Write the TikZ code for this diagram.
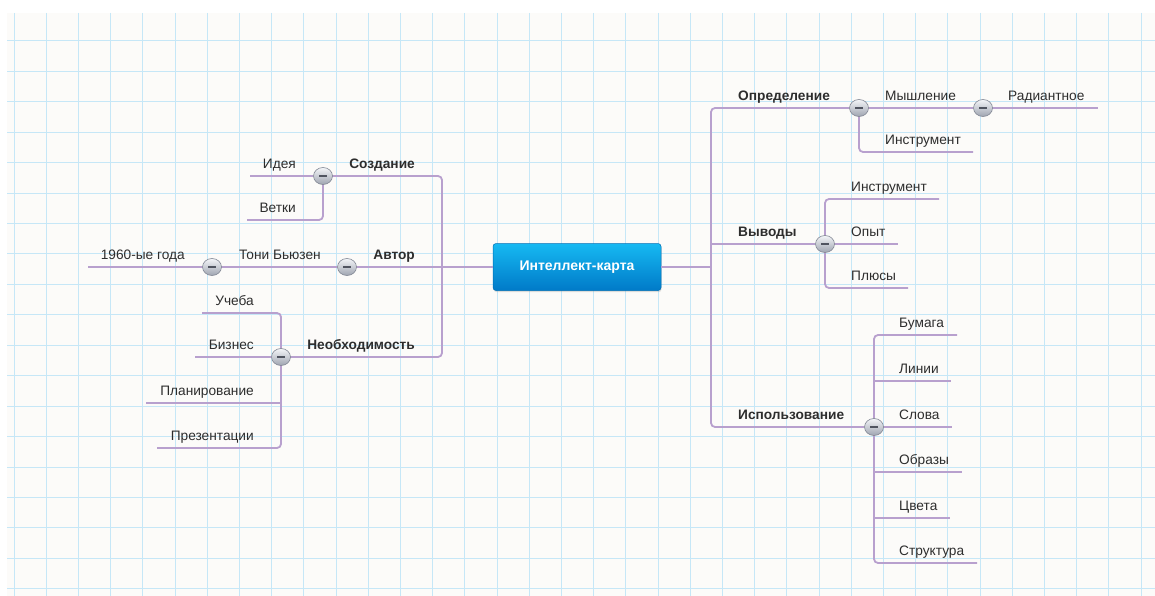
\documentclass[tikz,border=0pt]{standalone}
\usepackage{fontspec}
\setmainfont{Liberation Sans}
\usetikzlibrary{shadows,shapes.geometric}
\definecolor{paper}{RGB}{252,251,249}
\definecolor{gridc}{RGB}{198,231,247}
\definecolor{linkc}{RGB}{184,160,206}
\definecolor{textc}{RGB}{45,45,45}
\definecolor{btntop}{RGB}{244,245,248}
\definecolor{btnbot}{RGB}{158,164,176}
\definecolor{btnborder}{RGB}{130,135,148}
\definecolor{minusc}{RGB}{80,84,96}
\definecolor{ctop}{RGB}{22,185,242}
\definecolor{cbot}{RGB}{0,122,200}
\definecolor{cborder}{RGB}{0,110,180}
\begin{document}
\begin{tikzpicture}[x=1pt,y=-1pt,
  gridline/.style={draw=gridc, line width=0.9pt},
  link/.style={draw=linkc, line width=1.8pt, rounded corners=4pt},
  btn/.style={ellipse, minimum width=19pt, minimum height=17pt, inner sep=0pt, draw=btnborder, line width=0.6pt,
    top color=btntop, bottom color=btnbot,
    path picture={\draw[line width=1.5pt, minusc] ([xshift=-3.8pt]path picture bounding box.center) -- ([xshift=3.8pt]path picture bounding box.center);}},
  lab/.style={inner sep=0pt, text=textc, font=\fontsize{13.7}{16}\selectfont},
  mainlab/.style={inner sep=0pt, text=textc, font=\bfseries\fontsize{13.7}{16}\selectfont},
  centerbox/.style={rectangle, rounded corners=3pt, minimum width=168pt, minimum height=47pt,
    top color=ctop, bottom color=cbot, draw=cborder, line width=0.5pt, text=white,
    font=\bfseries\fontsize{14}{16}\selectfont,
    drop shadow={opacity=0.25, shadow xshift=0.6pt, shadow yshift=-1.6pt}}
]
\useasboundingbox (0,0) rectangle (1155,596);
\fill[white] (0,0) rectangle (1155,596);
\fill[paper] (7,13) rectangle (1155,596);
\foreach \i in {0,...,35} \draw[gridline] ({14+32.2*\i},13) -- ({14+32.2*\i},596);
\foreach \j in {0,...,18} \draw[gridline] (7,{40.7+30.45*\j}) -- (1155,{40.7+30.45*\j});

% central topic
\node[centerbox] (c) at (577,267) {Интеллект-карта};

% junctions
\coordinate (lj) at (442,267);
\coordinate (rj) at (711,267);

% buttons (positions)
\coordinate (pSozd) at (323,176);
\coordinate (pAvt) at (347,267);
\coordinate (pTon) at (212,267);
\coordinate (pNeob) at (281,357);
\coordinate (pOpr) at (859,108);
\coordinate (pMysh) at (983,108);
\coordinate (pVyv) at (825,244);
\coordinate (pIsp) at (874,427);

% free ends
\coordinate (eIdea) at (250,176);
\coordinate (eVetki) at (247,220);
\coordinate (eGod) at (88,267);
\coordinate (eUch) at (202,313);
\coordinate (eBiz) at (195,357);
\coordinate (ePlan) at (146,403);
\coordinate (ePrez) at (157,448);
\coordinate (eRad) at (1098,108);
\coordinate (eInstrA) at (973,152);
\coordinate (eInstrB) at (939,199);
\coordinate (eOpyt) at (898,244);
\coordinate (ePlus) at (908,288);
\coordinate (eBum) at (957,335);
\coordinate (eLin) at (951,381);
\coordinate (eSlova) at (952,427);
\coordinate (eObr) at (962,472);
\coordinate (eCv) at (950,518);
\coordinate (eStr) at (977,563);

% left connectors
\draw[link] (c.west) -- (lj) -- (pAvt);
\draw[link] (pSozd) -| (lj) |- (pNeob);
\draw[link] (pSozd) -- (eIdea);
\draw[link] (pSozd) |- (eVetki);
\draw[link] (pAvt) -- (pTon) -- (eGod);
\draw[link] (eUch) -| (pNeob) |- (ePrez);
\draw[link] (pNeob) -- (eBiz);
\draw[link] (pNeob |- ePlan) -- (ePlan);

% right connectors
\draw[link] (c.east) -- (rj);
\draw[link] (pOpr) -| (rj) |- (pIsp);
\draw[link] (rj |- pVyv) -- (pVyv);
\draw[link] (pOpr) -- (pMysh) -- (eRad);
\draw[link] (pOpr) |- (eInstrA);
\draw[link] (eInstrB) -| (pVyv) |- (ePlus);
\draw[link] (pVyv) -- (eOpyt);
\draw[link] (eBum) -| (pIsp) |- (eStr);
\draw[link] (pIsp |- eLin) -- (eLin);
\draw[link] (pIsp) -- (eSlova);
\draw[link] (pIsp |- eObr) -- (eObr);
\draw[link] (pIsp |- eCv) -- (eCv);

% buttons
\foreach \p/\n in {pSozd/bSozd, pAvt/bAvt, pTon/bTon, pNeob/bNeob, pOpr/bOpr, pMysh/bMysh, pVyv/bVyv, pIsp/bIsp}
  \node[btn] (\n) at (\p) {};

% left labels
\node[mainlab, anchor=base east] (tSozd) at (415,168.5) {Создание};
\node[lab, anchor=base east] (tIdea) at (296,168.5) {Идея};
\node[lab, anchor=base east] (tVetki) at (296,212.5) {Ветки};
\node[mainlab, anchor=base east] (tAvt) at (415,259.5) {Автор};
\node[lab, anchor=base east] (tTon) at (321,259.5) {Тони Бьюзен};
\node[lab, anchor=base east] (tGod) at (185,259.5) {1960-ые года};
\node[mainlab, anchor=base east] (tNeob) at (415,349.5) {Необходимость};
\node[lab, anchor=base east] (tUch) at (254,305.5) {Учеба};
\node[lab, anchor=base east] (tBiz) at (254,349.5) {Бизнес};
\node[lab, anchor=base east] (tPlan) at (254,395.5) {Планирование};
\node[lab, anchor=base east] (tPrez) at (254,440.5) {Презентации};

% right labels
\node[mainlab, anchor=base west] (tOpr) at (738,100.5) {Определение};
\node[lab, anchor=base west] (tMysh) at (885,100.5) {Мышление};
\node[lab, anchor=base west] (tRad) at (1008,100.5) {Радиантное};
\node[lab, anchor=base west] (tInstrA) at (885,144.5) {Инструмент};
\node[mainlab, anchor=base west] (tVyv) at (738,236.5) {Выводы};
\node[lab, anchor=base west] (tInstrB) at (851,191.5) {Инструмент};
\node[lab, anchor=base west] (tOpyt) at (851,236.5) {Опыт};
\node[lab, anchor=base west] (tPlus) at (851,280.5) {Плюсы};
\node[mainlab, anchor=base west] (tIsp) at (738,419.5) {Использование};
\node[lab, anchor=base west] (tBum) at (899,327.5) {Бумага};
\node[lab, anchor=base west] (tLin) at (899,373.5) {Линии};
\node[lab, anchor=base west] (tSlova) at (899,419.5) {Слова};
\node[lab, anchor=base west] (tObr) at (899,464.5) {Образы};
\node[lab, anchor=base west] (tCv) at (899,510.5) {Цвета};
\node[lab, anchor=base west] (tStr) at (899,555.5) {Структура};
\end{tikzpicture}
\end{document}
